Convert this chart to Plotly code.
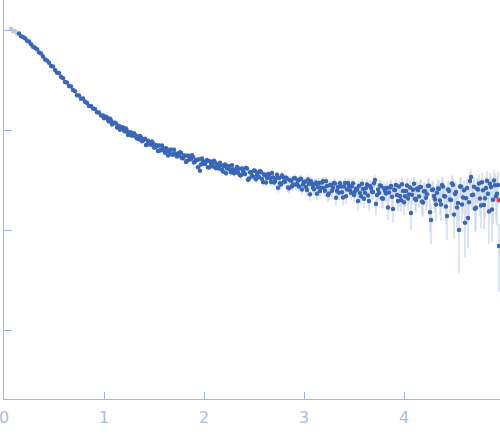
import numpy as np
import plotly.graph_objects as go

# scattering vector s (nm^-1), uniform grid of the measured curve
s = [
    0.07, 0.09, 0.11, 0.13,
    0.15, 0.17, 0.19, 0.21, 0.23, 0.25, 0.27, 0.29, 0.31, 0.33,
    0.35, 0.37, 0.39, 0.41, 0.43, 0.45, 0.47, 0.49, 0.51, 0.53,
    0.55, 0.57, 0.59, 0.61, 0.63, 0.65, 0.67, 0.69, 0.71, 0.73,
    0.75, 0.77, 0.79, 0.81, 0.83, 0.85, 0.87, 0.89, 0.91, 0.93,
    0.95, 0.97, 0.99, 1.01, 1.03, 1.05, 1.07, 1.09, 1.11, 1.13,
    1.15, 1.17, 1.19, 1.21, 1.23, 1.25, 1.27, 1.29, 1.31, 1.33,
    1.35, 1.37, 1.39, 1.41, 1.43, 1.45, 1.47, 1.49, 1.51, 1.53,
    1.55, 1.57, 1.59, 1.61, 1.63, 1.65, 1.67, 1.69, 1.71, 1.73,
    1.75, 1.77, 1.79, 1.81, 1.83, 1.85, 1.87, 1.89, 1.91, 1.93,
    1.95, 1.97, 1.99, 2.01, 2.03, 2.05, 2.07, 2.09, 2.11, 2.13,
    2.15, 2.17, 2.19, 2.21, 2.23, 2.25, 2.27, 2.29, 2.31, 2.33,
    2.35, 2.37, 2.39, 2.41, 2.43, 2.45, 2.47, 2.49, 2.51, 2.53,
    2.55, 2.57, 2.59, 2.61, 2.63, 2.65, 2.67, 2.69, 2.71, 2.73,
    2.75, 2.77, 2.79, 2.81, 2.83, 2.85, 2.87, 2.89, 2.91, 2.93,
    2.95, 2.97, 2.99, 3.01, 3.03, 3.05, 3.07, 3.09, 3.11, 3.13,
    3.15, 3.17, 3.19, 3.21, 3.23, 3.25, 3.27, 3.29, 3.31, 3.33,
    3.35, 3.37, 3.39, 3.41, 3.43, 3.45, 3.47, 3.49, 3.51, 3.53,
    3.55, 3.57, 3.59, 3.61, 3.63, 3.65, 3.67, 3.69, 3.71, 3.73,
    3.75, 3.77, 3.79, 3.81, 3.83, 3.85, 3.87, 3.89, 3.91, 3.93,
    3.95, 3.97, 3.99, 4.01, 4.03, 4.05, 4.07, 4.09, 4.11, 4.13,
    4.15, 4.17, 4.19, 4.21, 4.23, 4.25, 4.27, 4.29, 4.31, 4.33,
    4.35, 4.37, 4.39, 4.41, 4.43, 4.45, 4.47, 4.49, 4.51, 4.53,
    4.55, 4.57, 4.59, 4.61, 4.63, 4.65, 4.67, 4.69, 4.71, 4.73,
    4.75, 4.77, 4.79, 4.81, 4.83, 4.85, 4.87, 4.89, 4.91, 4.93,
    4.95,
]

# log10 of the intensity
log_intensity = [
    0.012, -0.012, -0.010, -0.034,
    -0.036, -0.063, -0.070, -0.082, -0.107, -0.115, -0.142, -0.168, -0.177, -0.193,
    -0.224, -0.236, -0.265, -0.295, -0.304, -0.328, -0.359, -0.366, -0.399, -0.428,
    -0.431, -0.467, -0.483, -0.520, -0.526, -0.561, -0.566, -0.599, -0.613, -0.652,
    -0.656, -0.687, -0.684, -0.717, -0.731, -0.761, -0.760, -0.786, -0.789, -0.822,
    -0.825, -0.854, -0.856, -0.878, -0.875, -0.914, -0.906, -0.931, -0.927, -0.976,
    -0.960, -0.987, -0.974, -1.016, -1.010, -1.047, -1.024, -1.049, -1.049, -1.085,
    -1.092, -1.074, -1.104, -1.088, -1.144, -1.121, -1.147, -1.134, -1.175, -1.162,
    -1.155, -1.198, -1.184, -1.228, -1.193, -1.217, -1.195, -1.246, -1.234, -1.265,
    -1.258, -1.229, -1.283, -1.258, -1.308, -1.265, -1.289, -1.270, -1.315, -1.299,
    -1.292, -1.345, -1.313, -1.337, -1.299, -1.376, -1.336, -1.364, -1.324, -1.363,
    -1.385, -1.351, -1.416, -1.346, -1.386, -1.365, -1.423, -1.392, -1.415, -1.370,
    -1.388, -1.452, -1.409, -1.440, -1.386, -1.485, -1.422, -1.465, -1.411, -1.450,
    -1.470, -1.419, -1.520, -1.449, -1.477, -1.445, -1.519, -1.476, -1.516, -1.447,
    -1.479, -1.546, -1.469, -1.518, -1.485, -1.583, -1.508, -1.546, -1.482, -1.542,
    -1.564, -1.488, -1.546, -1.518, -1.600, -1.538, -1.512, -1.575, -1.540, -1.637,
    -1.530, -1.577, -1.512, -1.607, -1.559, -1.636, -1.550, -1.578, -1.536, -1.608,
    -1.628, -1.564, -1.674, -1.531, -1.595, -1.560, -1.627, -1.532, -1.616, -1.594,
    -1.560, -1.663, -1.591, -1.628, -1.546, -1.710, -1.580, -1.621, -1.500, -1.649,
    -1.630, -1.559, -1.687, -1.607, -1.579, -1.625, -1.559, -1.790, -1.600, -1.649,
    -1.565, -1.701, -1.610, -1.663, -1.556, -1.645, -1.830, -1.597, -1.687, -1.585,
    -1.665, -1.569, -1.726, -1.612, -1.643, -1.558, -1.900, -1.594, -1.695, -1.627,
    -1.587, -1.745, -1.565, -1.665, -1.860, -1.610, -1.700, -1.550, -1.640, -1.775,
    -2.000, -1.565, -1.675, -1.928, -1.580, -1.723, -1.470, -1.648, -1.787, -1.587,
    -1.535, -1.755, -1.603, -1.682, -1.508, -1.816, -1.571, -1.697, -1.553, -1.637,
    -2.160,
]

# intensity uncertainty (same units as intensity)
sigma = [
    0.0040, 0.0038, 0.0036, 0.0034,
    0.0032, 0.0031, 0.0030, 0.0029, 0.0028, 0.0027, 0.0026, 0.0025, 0.0024, 0.0023,
    0.0022, 0.0021, 0.0021, 0.0020, 0.0020, 0.0019, 0.0019, 0.0018, 0.0018, 0.0017,
    0.0017, 0.0017, 0.0016, 0.0016, 0.0016, 0.0015, 0.0015, 0.0015, 0.0015, 0.0015,
    0.0015, 0.0014, 0.0014, 0.0014, 0.0014, 0.0014, 0.0014, 0.0014, 0.0014, 0.0014,
    0.0013, 0.0013, 0.0013, 0.0013, 0.0013, 0.0013, 0.0013, 0.0013, 0.0013, 0.0013,
    0.0012, 0.0012, 0.0012, 0.0012, 0.0012, 0.0012, 0.0012, 0.0012, 0.0012, 0.0012,
    0.0012, 0.0012, 0.0012, 0.0012, 0.0012, 0.0012, 0.0012, 0.0012, 0.0012, 0.0012,
    0.0013, 0.0013, 0.0013, 0.0013, 0.0014, 0.0014, 0.0014, 0.0015, 0.0015, 0.0015,
    0.0016, 0.0016, 0.0016, 0.0016, 0.0017, 0.0017, 0.0017, 0.0018, 0.0018, 0.0018,
    0.0019, 0.0019, 0.0019, 0.0020, 0.0020, 0.0020, 0.0021, 0.0021, 0.0021, 0.0021,
    0.0022, 0.0022, 0.0022, 0.0023, 0.0023, 0.0023, 0.0024, 0.0024, 0.0024, 0.0024,
    0.0025, 0.0025, 0.0025, 0.0025, 0.0026, 0.0026, 0.0026, 0.0026, 0.0026, 0.0027,
    0.0027, 0.0027, 0.0027, 0.0027, 0.0028, 0.0028, 0.0028, 0.0028, 0.0028, 0.0028,
    0.0029, 0.0029, 0.0029, 0.0029, 0.0030, 0.0030, 0.0030, 0.0030, 0.0030, 0.0030,
    0.0031, 0.0031, 0.0031, 0.0031, 0.0032, 0.0032, 0.0032, 0.0032, 0.0032, 0.0033,
    0.0033, 0.0033, 0.0033, 0.0034, 0.0034, 0.0034, 0.0034, 0.0034, 0.0035, 0.0035,
    0.0035, 0.0035, 0.0036, 0.0036, 0.0036, 0.0036, 0.0037, 0.0037, 0.0037, 0.0037,
    0.0038, 0.0038, 0.0038, 0.0039, 0.0039, 0.0039, 0.0040, 0.0040, 0.0040, 0.0041,
    0.0041, 0.0041, 0.0042, 0.0042, 0.0043, 0.0043, 0.0043, 0.0044, 0.0044, 0.0045,
    0.0045, 0.0046, 0.0046, 0.0047, 0.0047, 0.0048, 0.0048, 0.0049, 0.0049, 0.0050,
    0.0050, 0.0051, 0.0052, 0.0052, 0.0053, 0.0053, 0.0054, 0.0055, 0.0055, 0.0056,
    0.0056, 0.0057, 0.0058, 0.0058, 0.0059, 0.0060, 0.0060, 0.0061, 0.0062, 0.0062,
    0.0063, 0.0064, 0.0064, 0.0065, 0.0066, 0.0067, 0.0067, 0.0068, 0.0069, 0.0070,
    0.0070, 0.0072, 0.0074, 0.0076, 0.0078, 0.0080, 0.0082, 0.0085, 0.0090, 0.0120,
    0.0045,
]

# in-between frames of the finer grid beyond s = 1
s_fine = [
    1.00, 1.02, 1.04, 1.06, 1.08, 1.10, 1.12, 1.14,
    1.16, 1.18, 1.20, 1.22, 1.24, 1.26, 1.28, 1.30, 1.32, 1.34,
    1.36, 1.38, 1.40, 1.42, 1.44, 1.46, 1.48, 1.50, 1.52, 1.54,
    1.56, 1.58, 1.60, 1.62, 1.64, 1.66, 1.68, 1.70, 1.72, 1.74,
    1.76, 1.78, 1.80, 1.82, 1.84, 1.86, 1.88, 1.90, 1.92, 1.94,
    1.96, 1.98, 2.00, 2.02, 2.04, 2.06, 2.08, 2.10, 2.12, 2.14,
    2.16, 2.18, 2.20, 2.22, 2.24, 2.26, 2.28, 2.30, 2.32, 2.34,
    2.36, 2.38, 2.40, 2.42, 2.44, 2.46, 2.48, 2.50, 2.52, 2.54,
    2.56, 2.58, 2.60, 2.62, 2.64, 2.66, 2.68, 2.70, 2.72, 2.74,
    2.76, 2.78, 2.80, 2.82, 2.84, 2.86, 2.88, 2.90, 2.92, 2.94,
    2.96, 2.98, 3.00, 3.02, 3.04, 3.06, 3.08, 3.10, 3.12, 3.14,
    3.16, 3.18, 3.20, 3.22, 3.24, 3.26, 3.28, 3.30, 3.32, 3.34,
    3.36, 3.38, 3.40, 3.42, 3.44, 3.46, 3.48, 3.50, 3.52, 3.54,
    3.56, 3.58, 3.60, 3.62, 3.64, 3.66, 3.68, 3.70, 3.72, 3.74,
    3.76, 3.78, 3.80, 3.82, 3.84, 3.86, 3.88, 3.90, 3.92, 3.94,
    3.96, 3.98, 4.00, 4.02, 4.04, 4.06, 4.08, 4.10, 4.12, 4.14,
    4.16, 4.18, 4.20, 4.22, 4.24, 4.26, 4.28, 4.30, 4.32, 4.34,
    4.36, 4.38, 4.40, 4.42, 4.44, 4.46, 4.48, 4.50, 4.52, 4.54,
    4.56, 4.58, 4.60, 4.62, 4.64, 4.66, 4.68, 4.70, 4.72, 4.74,
    4.76, 4.78, 4.80, 4.82, 4.84, 4.86, 4.88, 4.90, 4.92, 4.94,
]

log_intensity_fine = [
    -0.883, -0.867, -0.899, -0.887, -0.946, -0.931, -0.934, -0.973,
    -0.998, -0.973, -1.006, -0.984, -1.050, -1.025, -1.057, -1.033, -1.068, -1.063,
    -1.061, -1.113, -1.096, -1.149, -1.108, -1.136, -1.114, -1.175, -1.151, -1.210,
    -1.205, -1.156, -1.204, -1.183, -1.254, -1.211, -1.244, -1.198, -1.247, -1.234,
    -1.223, -1.281, -1.255, -1.321, -1.256, -1.295, -1.253, -1.325, -1.297, -1.372,
    -1.408, -1.284, -1.341, -1.318, -1.373, -1.312, -1.349, -1.308, -1.383, -1.343,
    -1.327, -1.396, -1.361, -1.433, -1.361, -1.398, -1.353, -1.433, -1.397, -1.428,
    -1.452, -1.386, -1.432, -1.379, -1.498, -1.422, -1.461, -1.404, -1.492, -1.428,
    -1.412, -1.489, -1.446, -1.526, -1.442, -1.483, -1.431, -1.524, -1.484, -1.578,
    -1.532, -1.455, -1.514, -1.477, -1.576, -1.502, -1.563, -1.483, -1.545, -1.504,
    -1.492, -1.595, -1.520, -1.571, -1.494, -1.642, -1.542, -1.593, -1.526, -1.571,
    -1.611, -1.525, -1.580, -1.512, -1.649, -1.551, -1.608, -1.530, -1.677, -1.569,
    -1.533, -1.623, -1.565, -1.662, -1.529, -1.603, -1.563, -1.650, -1.587, -1.709,
    -1.631, -1.537, -1.688, -1.579, -1.655, -1.561, -1.617, -1.533, -1.739, -1.595,
    -1.556, -1.682, -1.583, -1.634, -1.775, -1.576, -1.667, -1.598, -1.549, -1.710,
    -1.661, -1.542, -1.723, -1.609, -1.685, -1.576, -1.647, -1.538, -1.699, -1.600,
    -1.571, -1.716, -1.612, -1.677, -1.558, -1.823, -1.599, -1.659, -1.745, -1.585,
    -1.705, -1.550, -1.660, -1.765, -1.595, -1.695, -1.535, -1.845, -1.620, -1.730,
    -1.565, -1.744, -1.603, -1.682, -1.881, -1.510, -1.649, -1.568, -1.777, -1.596,
    -1.684, -1.523, -1.751, -1.580, -1.638, -1.537, -1.795, -1.504, -1.662, -1.551,
]

sigma_fine = [
    0.0013, 0.0013, 0.0013, 0.0013, 0.0013, 0.0013, 0.0013, 0.0013,
    0.0012, 0.0012, 0.0012, 0.0012, 0.0012, 0.0012, 0.0012, 0.0012, 0.0012, 0.0012,
    0.0012, 0.0012, 0.0012, 0.0012, 0.0012, 0.0012, 0.0012, 0.0012, 0.0012, 0.0012,
    0.0013, 0.0013, 0.0013, 0.0014, 0.0014, 0.0014, 0.0015, 0.0015, 0.0015, 0.0016,
    0.0016, 0.0016, 0.0017, 0.0017, 0.0017, 0.0018, 0.0018, 0.0018, 0.0019, 0.0019,
    0.0019, 0.0020, 0.0020, 0.0020, 0.0021, 0.0021, 0.0021, 0.0021, 0.0022, 0.0022,
    0.0022, 0.0022, 0.0023, 0.0023, 0.0023, 0.0024, 0.0024, 0.0024, 0.0024, 0.0025,
    0.0025, 0.0025, 0.0025, 0.0026, 0.0026, 0.0026, 0.0026, 0.0026, 0.0027, 0.0027,
    0.0027, 0.0027, 0.0027, 0.0028, 0.0028, 0.0028, 0.0028, 0.0028, 0.0029, 0.0029,
    0.0029, 0.0029, 0.0030, 0.0030, 0.0030, 0.0030, 0.0030, 0.0031, 0.0031, 0.0031,
    0.0031, 0.0031, 0.0032, 0.0032, 0.0032, 0.0032, 0.0032, 0.0033, 0.0033, 0.0033,
    0.0033, 0.0033, 0.0034, 0.0034, 0.0034, 0.0034, 0.0035, 0.0035, 0.0035, 0.0035,
    0.0035, 0.0036, 0.0036, 0.0036, 0.0036, 0.0037, 0.0037, 0.0037, 0.0037, 0.0038,
    0.0038, 0.0038, 0.0039, 0.0039, 0.0039, 0.0040, 0.0040, 0.0040, 0.0041, 0.0041,
    0.0041, 0.0042, 0.0042, 0.0043, 0.0043, 0.0043, 0.0044, 0.0044, 0.0045, 0.0045,
    0.0046, 0.0046, 0.0047, 0.0047, 0.0048, 0.0048, 0.0049, 0.0049, 0.0050, 0.0050,
    0.0051, 0.0051, 0.0052, 0.0053, 0.0053, 0.0054, 0.0054, 0.0055, 0.0056, 0.0056,
    0.0057, 0.0057, 0.0058, 0.0059, 0.0059, 0.0060, 0.0061, 0.0061, 0.0062, 0.0063,
    0.0063, 0.0064, 0.0065, 0.0065, 0.0066, 0.0067, 0.0068, 0.0068, 0.0069, 0.0070,
    0.0071, 0.0073, 0.0075, 0.0077, 0.0079, 0.0081, 0.0084, 0.0087, 0.0092, 0.0100,
]

# points left out of the analysis at the start of the curve
n_excluded = 4

# the single flagged point at the very end of the curve
flag_s = [4.95]
flag_log_intensity = [-1.70]

used_s = s[n_excluded:] + s_fine
used_i = 10 ** np.array(log_intensity[n_excluded:] + log_intensity_fine)
used_sigma = sigma[n_excluded:] + sigma_fine

excl_i = 10 ** np.array(log_intensity[:n_excluded])
flag_intensity = 10 ** np.array(flag_log_intensity)

axis_col = "#9fb5e3"
main_col = "#3a66b7"
light_col = "#b9cbea"
err_col = "#c6d4ee"

fig = go.Figure()

fig.add_trace(go.Scatter(
    x=s[:n_excluded], y=excl_i,
    mode="markers",
    marker=dict(size=4.5, color=light_col),
    error_y=dict(type="data", array=sigma[:n_excluded], color=err_col, thickness=1.2, width=0),
    hoverinfo="skip",
))

fig.add_trace(go.Scatter(
    x=used_s, y=used_i,
    mode="markers",
    marker=dict(size=4.5, color=main_col),
    error_y=dict(type="data", array=used_sigma, color=err_col, thickness=1.2, width=0),
    hoverinfo="skip",
))

fig.add_trace(go.Scatter(
    x=flag_s, y=flag_intensity,
    mode="markers",
    marker=dict(size=5, color="#e2403a"),
    hoverinfo="skip",
))

fig.update_layout(
    width=500, height=437,
    margin=dict(l=4, r=0, t=0, b=38),
    showlegend=False,
    plot_bgcolor="white",
    paper_bgcolor="white",
    font=dict(family="DejaVu Sans", size=16, color="#a9bde6"),
)

fig.update_xaxes(
    range=[0, 4.96],
    tickmode="linear", tick0=0, dtick=1,
    ticks="inside", ticklen=7, tickwidth=1, tickcolor=axis_col,
    showline=True, linecolor=axis_col, linewidth=1,
    showgrid=False, zeroline=False,
    tickfont=dict(size=16, color="#a9bde6"),
    ticklabeloverflow="allow",
    ticklabelstandoff=4,
    automargin=False,
)
fig.update_yaxes(
    type="log",
    range=[-3.69, 0.30],
    dtick=1,
    ticks="inside", ticklen=8, tickwidth=1, tickcolor=axis_col,
    showline=True, linecolor=axis_col, linewidth=1,
    showgrid=False, zeroline=False,
    showticklabels=False,
    automargin=False,
)

# drop the default page margin so the figure sits flush in the window
fig.write_html(
    "out.html",
    config={"displayModeBar": False},
    post_script="document.body.style.margin = '0';",
)
